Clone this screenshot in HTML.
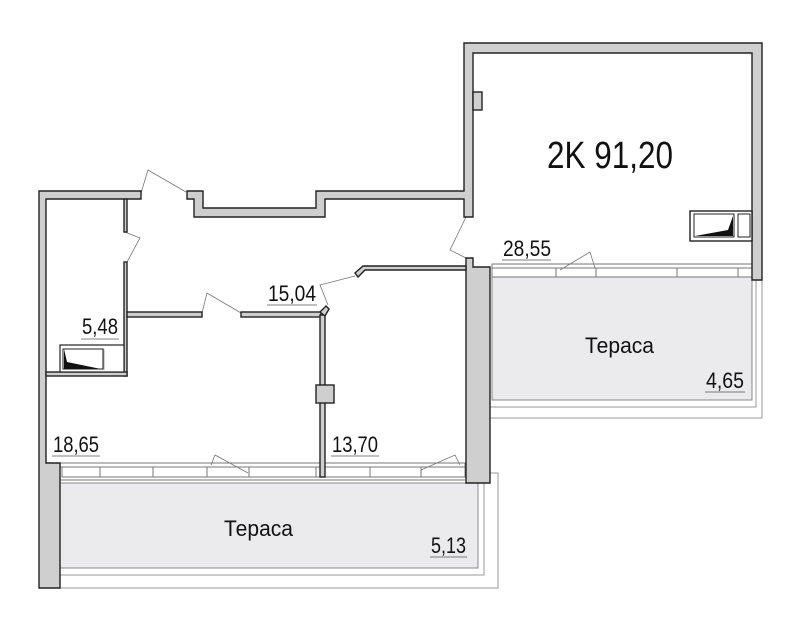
<!DOCTYPE html>
<html><head><meta charset="utf-8"><style>
html,body{margin:0;padding:0;background:#fff}
svg{display:block}
text{font-family:"Liberation Sans",sans-serif;fill:#111}
</style></head><body>
<svg width="800" height="625" viewBox="0 0 800 625" xmlns="http://www.w3.org/2000/svg">
<rect x="60" y="483" width="418" height="85" fill="#ebebed" stroke="#888" stroke-width="1"/>
<polyline points="60,575 484,575 484,483" fill="none" stroke="#999" stroke-width="1"/>
<polyline points="60,588 498,588 498,473 490,473" fill="none" stroke="#999" stroke-width="1"/>
<rect x="492" y="277" width="260" height="123" fill="#ebebed" stroke="#888" stroke-width="1"/>
<polyline points="490,407 756,407 756,280" fill="none" stroke="#999" stroke-width="1"/>
<polyline points="490,418 762,418 762,280" fill="none" stroke="#999" stroke-width="1"/>

<g fill="none" stroke="#777" stroke-width="1">
<rect x="60" y="463" width="405" height="4"/>
<rect x="62" y="467" width="403" height="10"/>
<line x1="60" y1="480" x2="465" y2="480"/>
<line x1="100" y1="467" x2="100" y2="477"/><line x1="153" y1="467" x2="153" y2="477"/>
<line x1="207" y1="467" x2="207" y2="477"/><line x1="249" y1="467" x2="249" y2="477"/>
<line x1="316" y1="467" x2="316" y2="477"/><line x1="370" y1="467" x2="370" y2="477"/>
<line x1="421" y1="467" x2="421" y2="477"/>
<rect x="492" y="264" width="260" height="4"/>
<rect x="492" y="268" width="260" height="9"/>
<line x1="556" y1="268" x2="556" y2="277"/><line x1="596" y1="268" x2="596" y2="277"/>
<line x1="677" y1="268" x2="677" y2="277"/><line x1="738" y1="268" x2="738" y2="277"/>
</g>

<g fill="none" stroke="#777" stroke-width="0.8">
<path d="M141,193 L148,170 L186,192"/>
<path d="M125,232 L140,238 L127,262"/>
<path d="M202,313 L207,293 L241,313"/>
<path d="M328,305 L320,285 L355,276"/>
<path d="M466,217 L450,250 L466,258"/>
<path d="M560,270 L590,252 L595,268"/>
<path d="M211,465 L215,455 L248,473"/>
<path d="M421,470 L455,455 L460,465"/>
</g>

<g fill="#cfcfcf" stroke="#222" stroke-width="1.4" stroke-linejoin="miter">
<polygon points="39,191 141,191 141,199 46,199 46,463 60,463 60,588 39,588"/>
<polygon points="187,191 203,191 203,208 316,208 316,191 464,191 464,43 762,43 762,280 752,280 752,53 473,53 473,217 464,217 464,199 325,199 325,217 194,217 194,199 187,199"/>
<rect x="473" y="92" width="9" height="18"/>
<polygon points="466,258 473,258 473,267 490,267 490,483 466,483"/>
<rect x="124" y="199" width="3" height="33"/>
<rect x="124" y="262" width="3" height="114"/>
<rect x="46" y="372" width="81" height="4"/>
<rect x="127" y="312" width="75" height="5"/>
<rect x="241" y="312" width="80" height="5"/>
<rect x="320" y="315" width="5" height="162"/>
<rect x="316" y="385" width="18" height="18"/>
<polygon points="320,312 326,306 329,309 325,316"/>
<polygon points="363,266 466,266 466,270 365,270 358,277 355,273"/>
</g>

<rect x="60" y="345" width="64" height="27" fill="#fff" stroke="#222" stroke-width="1.2"/>
<rect x="63" y="349" width="40" height="20" fill="#fff" stroke="#222"/>
<polygon points="64,349 67,362 101,369 64,369" fill="#111"/>
<line x1="104" y1="349" x2="104" y2="370" stroke="#aaa"/>
<rect x="690" y="211" width="62" height="30" fill="#fff" stroke="#222" stroke-width="1.4"/>
<rect x="694" y="214" width="40" height="23" fill="#fff" stroke="#222"/>
<polygon points="695,236 733,236 733,216 728,230" fill="#111"/>
<rect x="738" y="214" width="12" height="23" fill="#fff" stroke="#222"/>

<text x="547" y="168" font-size="38" textLength="126" lengthAdjust="spacingAndGlyphs">2K  91,20</text>
<g font-size="22">
<text x="503" y="256" textLength="48" lengthAdjust="spacingAndGlyphs">28,55</text>
<text x="268" y="301" textLength="48" lengthAdjust="spacingAndGlyphs">15,04</text>
<text x="82" y="334" textLength="36" lengthAdjust="spacingAndGlyphs">5,48</text>
<text x="53" y="452" textLength="46" lengthAdjust="spacingAndGlyphs">18,65</text>
<text x="332" y="452" textLength="46" lengthAdjust="spacingAndGlyphs">13,70</text>
<text x="224" y="536" textLength="69" lengthAdjust="spacingAndGlyphs">Тераса</text>
<text x="431" y="553" textLength="35" lengthAdjust="spacingAndGlyphs">5,13</text>
<text x="585" y="353" textLength="69" lengthAdjust="spacingAndGlyphs">Тераса</text>
<text x="706" y="388" textLength="38" lengthAdjust="spacingAndGlyphs">4,65</text>
</g>
<g stroke="#555" stroke-width="0.8">
<line x1="502" y1="260" x2="551" y2="260"/>
<line x1="267" y1="305" x2="317" y2="305"/>
<line x1="81" y1="339" x2="119" y2="339"/>
<line x1="52" y1="456" x2="100" y2="456"/>
<line x1="331" y1="456" x2="379" y2="456"/>
<line x1="430" y1="557" x2="467" y2="557"/>
<line x1="705" y1="392" x2="745" y2="392"/>
</g>
</svg>
</body></html>
